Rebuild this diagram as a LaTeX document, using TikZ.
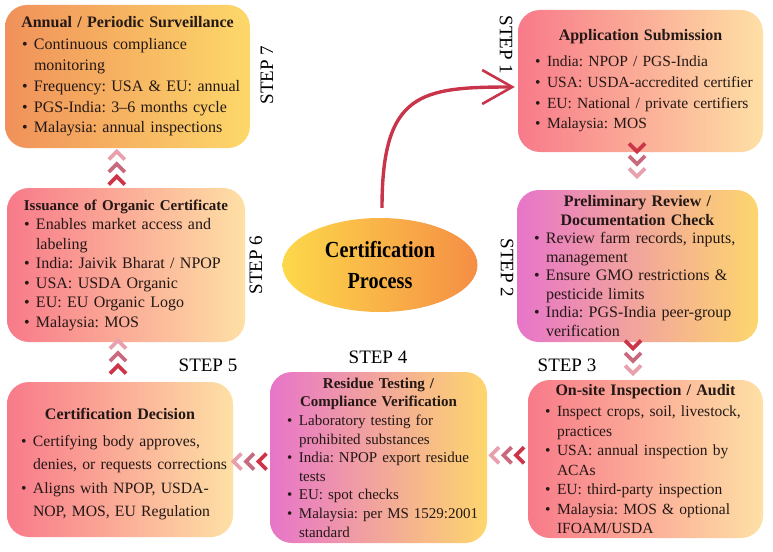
\documentclass[tikz,border=0pt]{standalone}
\usepackage{fontspec}
\setmainfont{Liberation Serif}
\newfontfamily\condfont[FakeStretch=0.88]{Liberation Serif}
\usetikzlibrary{shapes.geometric,arrows.meta,calc}

\definecolor{roseL}{HTML}{F87A8A}
\definecolor{peachR}{HTML}{FEE0A5}
\definecolor{orchidL}{HTML}{E775C9}
\definecolor{yellowR}{HTML}{FDD66E}
\definecolor{orangeL}{HTML}{F0915A}
\definecolor{goldR}{HTML}{FDD86A}
\definecolor{ellY}{HTML}{FDD84A}
\definecolor{ellO}{HTML}{F58E45}
\definecolor{chevdark}{HTML}{CD3448}
\definecolor{chevmid}{HTML}{C8697D}
\definecolor{chevlight}{HTML}{E8A0AC}
\definecolor{arrowred}{HTML}{C8354A}
\definecolor{inktext}{HTML}{231815}

\setlength{\parindent}{0pt}
\frenchspacing
\hyphenpenalty=10000
\exhyphenpenalty=10000
\newcommand{\boxtitle}[2][0pt]{{\centering\bfseries #2\par}\vspace{#1}}
\newcommand{\bul}[1]{\par\noindent\hangindent=23pt\hangafter=1\makebox[23pt][l]{\hspace{11pt}\textbullet}#1\par}

\begin{document}
\begin{tikzpicture}[x=1pt, y=-1pt,
  card/.style={rectangle, rounded corners=22pt, align=left, inner xsep=6pt, inner ysep=2pt, text=inktext},
  redcard/.style={card, left color=roseL, right color=peachR},
  pinkcard/.style={card, left color=orchidL, right color=yellowR},
  orangecard/.style={card, left color=orangeL, right color=goldR},
  steplbl/.style={font=\fontsize{19}{22}\selectfont, inner sep=0pt},
  chevline/.style={line width=3.6pt, line join=miter},
  curvearrow/.style={draw=arrowred, line width=3.4pt, -{Straight Barb[length=30pt, width=34pt, line width=2.6pt]}},
  chevs/.pic={
    \foreach \d/\col in {-12.5/chevdark, 0/chevmid, 12.5/chevlight}
      \draw[chevline, \col] (\d-4,-8) -- (\d+4,0) -- (\d-4,8);
  }
]
\useasboundingbox (0,0) rectangle (773,551);

% step boxes
\node[orangecard, text width=233pt, minimum height=143pt, font=\fontsize{16}{20.8}\selectfont] (surv) at (127.5,76.5) {
  \boxtitle[1pt]{Annual / Periodic Surveillance}
  \bul{Continuous compliance\newline monitoring}
  \bul{Frequency: USA \& EU: annual}
  \bul{PGS-India: 3–6 months cycle}
  \bul{Malaysia: annual inspections}};
\node[redcard, text width=233pt, minimum height=142pt, font=\fontsize{15.5}{20.8}\selectfont] (app) at (640.5,81) {
  \boxtitle[5pt]{\fontsize{16}{20}\selectfont Application Submission}
  \bul{India: NPOP / PGS-India}
  \bul{USA: USDA-accredited certifier}
  \bul{EU: National / private certifiers}
  \bul{Malaysia: MOS}};
\node[pinkcard, text width=229pt, minimum height=152pt, font=\fontsize{16}{18.5}\selectfont] (rev) at (637.5,266) {
  \boxtitle{Preliminary Review /\\ Documentation Check}
  \bul{Review farm records, inputs,\newline management}
  \bul{Ensure GMO restrictions \&\newline pesticide limits}
  \bul{India: PGS-India peer-group\newline verification}};
\node[redcard, text width=223pt, minimum height=158pt, font=\fontsize{15.5}{19.5}\selectfont] (insp) at (645.5,459) {
  \boxtitle[2pt]{\fontsize{16}{19.5}\selectfont On-site Inspection / Audit}
  \bul{Inspect crops, soil, livestock,\newline practices}
  \bul{USA: annual inspection by\newline ACAs}
  \bul{EU: third-party inspection}
  \bul{Malaysia: MOS \& optional\newline IFOAM/USDA}};
\node[pinkcard, text width=205pt, minimum height=171pt, font=\fontsize{15}{18.6}\selectfont] (res) at (378.5,457.5) {
  \boxtitle{Residue Testing /\\ Compliance Verification}
  \bul{Laboratory testing for\newline prohibited substances}
  \bul{India: NPOP export residue\newline tests}
  \bul{EU: spot checks}
  \bul{Malaysia: per MS 1529:2001\newline standard}};
\node[redcard, text width=220pt, inner xsep=3pt, minimum height=155pt, font=\fontsize{15.7}{23.5}\selectfont] (dec) at (120,459.5) {
  \boxtitle[3pt]{\fontsize{16}{23.5}\selectfont\rule{0pt}{21pt}Certification Decision}
  \bul{Certifying body approves,\newline denies, or requests corrections}
  \bul{Aligns with NPOP, USDA-\newline NOP, MOS, EU Regulation}};
\node[redcard, text width=226pt, minimum height=154pt, font=\fontsize{16}{19.5}\selectfont] (iss) at (126,265) {
  \boxtitle{\fontsize{15}{19}\selectfont Issuance of Organic Certificate}
  \bul{Enables market access and\newline labeling}
  \bul{India: Jaivik Bharat / NPOP}
  \bul{USA: USDA Organic}
  \bul{EU: EU Organic Logo}
  \bul{Malaysia: MOS}};

\node[ellipse, minimum width=195pt, minimum height=94pt, inner sep=0pt, left color=ellY, right color=ellO, align=center, font={\condfont\bfseries\fontsize{23}{31}\selectfont}] (ctr) at (380,265) {Certification\\Process};

\node[steplbl, rotate=-90] (s1) at (506,45) {STEP 1};
\node[steplbl, rotate=-90] (s2) at (507,268) {STEP 2};
\node[steplbl] (s3) at (567,365) {STEP 3};
\node[steplbl] (s4) at (378,357) {STEP 4};
\node[steplbl] (s5) at (208,365) {STEP 5};
\node[steplbl, rotate=90] (s6) at (256,265) {STEP 6};
\node[steplbl, rotate=90] (s7) at (267,75) {STEP 7};

\draw[curvearrow] ($(ctr.north)+(2,-10)$) .. controls +(0,-115) and +(-95,0) .. ($(app.west)+(-3,6)$);

% chevrons between steps
\pic[rotate=-90] at ($(app.south)!0.5!(rev.north)+(-2,-11)$) {chevs};
\pic[rotate=-90] at ($(rev.south)!0.5!(insp.north)+(-8.5,-4)$) {chevs};
\pic[rotate=180] at ($(insp.west)!0.5!(res.east)+(0,-3)$) {chevs};
\pic[rotate=180] at ($(res.west)!0.5!(dec.east)+(-1.5,3)$) {chevs};
\pic[rotate=90] at ($(dec.north)!0.5!(iss.south)+(-5,-5)$) {chevs};
\pic[rotate=90] at ($(iss.north)!0.5!(surv.south)+(-10,0)$) {chevs};
\end{tikzpicture}
\end{document}
